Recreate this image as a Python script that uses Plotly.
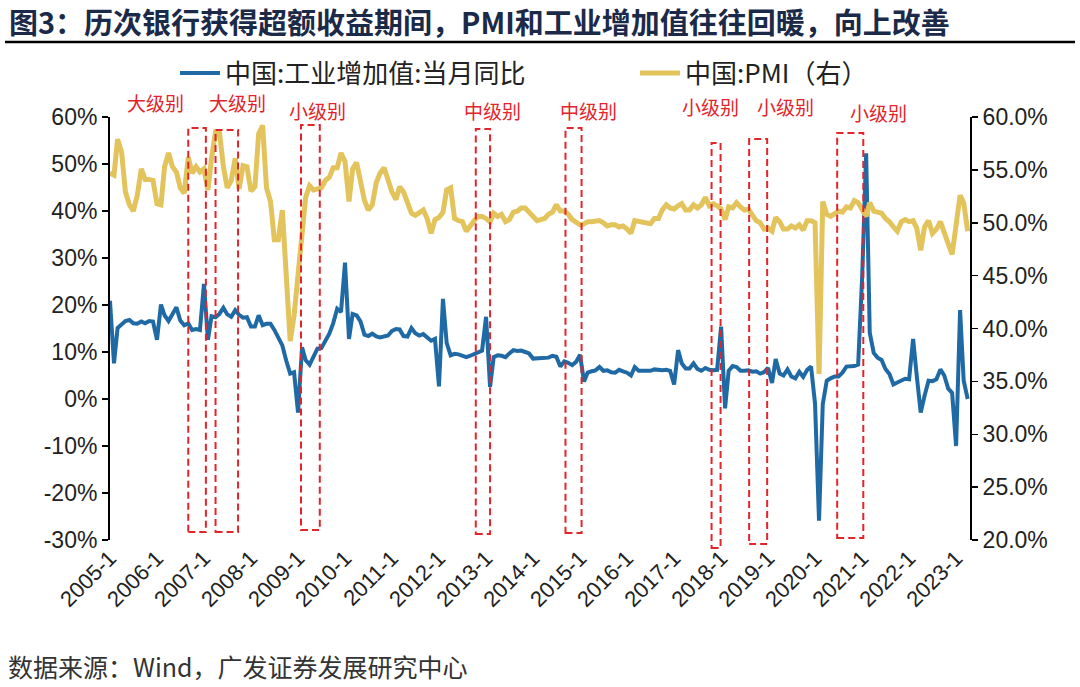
import pandas as pd
import plotly.graph_objects as go

# ---------------- data ----------------
start_month = "2005-01"
n_months = 220  # 2005-01 ... 2023-04

iva_yoy = [  # 中国:工业增加值:当月同比 (%)
    20.9, 7.6, 15.1, 16.0, 16.6, 16.8, 16.1, 16.0, 16.5, 16.1, 16.6, 16.5,   # 2005
    12.6, 20.1, 17.8, 16.6, 17.9, 19.5, 16.7, 15.7, 16.1, 14.7, 14.9, 14.7,  # 2006
    24.5, 12.6, 17.6, 17.4, 18.1, 19.4, 18.0, 17.5, 18.9, 17.9, 17.3, 17.4,  # 2007
    15.4, 15.4, 17.8, 15.7, 16.0, 16.0, 14.7, 12.8, 11.4, 8.2, 5.4, 5.7,     # 2008
    -2.9, 11.0, 8.3, 7.3, 8.9, 10.7, 10.8, 12.3, 13.9, 16.1, 19.2, 18.5,     # 2009
    29.0, 12.8, 18.1, 17.8, 16.5, 13.7, 13.4, 13.9, 13.3, 13.1, 13.3, 13.5,  # 2010
    14.5, 14.9, 14.8, 13.4, 13.3, 15.1, 14.0, 13.5, 13.8, 13.2, 12.4, 12.8,  # 2011
    2.7, 21.3, 11.9, 9.3, 9.6, 9.5, 9.2, 8.9, 9.2, 9.6, 10.1, 10.3,          # 2012
    17.5, 2.6, 8.9, 9.3, 9.2, 8.9, 9.7, 10.4, 10.2, 10.3, 10.0, 9.7,         # 2013
    8.6, 8.6, 8.8, 8.7, 8.8, 9.2, 9.0, 6.9, 8.0, 7.7, 7.2, 7.9,              # 2014
    9.4, 3.7, 5.6, 5.9, 6.1, 6.8, 6.0, 6.1, 5.7, 5.6, 6.2, 5.9,              # 2015
    5.6, 5.0, 6.8, 6.0, 6.0, 6.2, 6.0, 6.3, 6.1, 6.1, 6.2, 6.0,              # 2016
    3.1, 10.4, 7.6, 6.5, 6.5, 7.6, 6.4, 6.0, 6.6, 6.2, 6.1, 6.2,             # 2017
    15.4, -2.0, 6.0, 7.0, 6.8, 6.0, 6.0, 6.1, 5.8, 5.9, 5.4, 5.7,            # 2018
    6.6, 3.4, 8.5, 5.4, 5.0, 6.3, 4.8, 4.4, 5.8, 4.7, 6.2, 6.9,              # 2019
    -1.0, -25.9, -1.1, 3.9, 4.4, 4.8, 4.8, 5.6, 6.9, 6.9, 7.0, 7.3,          # 2020
    26.0, 52.3, 14.1, 9.8, 8.8, 8.3, 6.4, 5.3, 3.1, 3.5, 3.8, 4.3,           # 2021
    4.2, 12.8, 5.0, -2.9, 0.7, 3.9, 3.8, 4.2, 6.3, 5.0, 2.2, 1.3,            # 2022
    -10.0, 18.9, 3.9, 0.0,                                                   # 2023
]

pmi = [  # 中国:PMI (%)
    54.7, 54.5, 57.9, 56.7, 52.9, 51.7, 51.1, 52.6, 55.1, 54.1, 54.1, 54.0,  # 2005
    51.8, 51.7, 55.3, 56.6, 55.3, 54.8, 53.3, 52.8, 56.2, 54.7, 55.3, 54.8,  # 2006
    55.1, 53.1, 56.1, 58.6, 58.6, 55.3, 53.3, 54.0, 56.1, 53.2, 55.4, 55.3,  # 2007
    53.0, 53.4, 58.4, 59.2, 53.3, 52.0, 48.4, 48.4, 51.2, 44.6, 38.8, 41.2,  # 2008
    45.3, 49.0, 52.4, 53.5, 53.1, 53.2, 53.3, 54.0, 54.3, 55.2, 55.2, 56.6,  # 2009
    55.8, 52.0, 55.1, 55.7, 53.9, 52.1, 51.2, 51.7, 53.8, 54.7, 55.2, 53.9,  # 2010
    52.9, 52.2, 53.4, 52.9, 52.0, 50.9, 50.7, 50.9, 51.2, 50.4, 49.0, 50.3,  # 2011
    50.5, 51.0, 53.1, 53.3, 50.4, 50.2, 50.1, 49.2, 49.8, 50.2, 50.6, 50.6,  # 2012
    50.4, 50.1, 50.9, 50.6, 50.8, 50.1, 50.3, 51.0, 51.1, 51.4, 51.4, 51.0,  # 2013
    50.5, 50.2, 50.3, 50.4, 50.8, 51.0, 51.7, 51.1, 51.1, 50.8, 50.3, 50.1,  # 2014
    49.8, 49.9, 50.1, 50.1, 50.2, 50.2, 50.0, 49.7, 49.8, 49.8, 49.6, 49.7,  # 2015
    49.4, 49.0, 50.2, 50.1, 50.1, 50.0, 49.9, 50.4, 50.4, 51.2, 51.7, 51.4,  # 2016
    51.3, 51.6, 51.8, 51.2, 51.2, 51.7, 51.4, 51.7, 52.4, 51.6, 51.8, 51.6,  # 2017
    51.3, 50.3, 51.5, 51.4, 51.9, 51.5, 51.2, 51.3, 50.8, 50.2, 50.0, 49.4,  # 2018
    49.5, 49.2, 50.5, 50.1, 49.4, 49.4, 49.7, 49.5, 49.8, 49.3, 50.2, 50.2,  # 2019
    50.0, 35.7, 52.0, 50.8, 50.6, 50.9, 51.1, 51.0, 51.5, 51.4, 52.1, 51.9,  # 2020
    51.3, 50.6, 51.9, 51.1, 51.0, 50.9, 50.4, 50.1, 49.6, 49.2, 50.1, 50.3,  # 2021
    50.1, 50.2, 49.5, 47.4, 49.6, 50.2, 49.0, 49.4, 50.1, 49.2, 48.0, 47.0,  # 2022
    50.1, 52.6, 51.9, 49.2,                                                  # 2023
]

tick_years = list(range(2005, 2024))
x_tick_labels = [f"{y}-1" for y in tick_years]
left_ticks = [-30, -20, -10, 0, 10, 20, 30, 40, 50, 60]
left_tick_labels = [f"{v}%" for v in left_ticks]
right_ticks = [20, 25, 30, 35, 40, 45, 50, 55, 60]
right_tick_labels = [f"{v:.1f}%" for v in right_ticks]

# highlighted periods (dashed boxes) and their labels
periods = [
    ("2006-09-01", "2007-01-16", "大级别"),
    ("2007-04-01", "2007-09-23", "大级别"),
    ("2009-01-24", "2009-06-19", "小级别"),
    ("2012-10-13", "2013-02-01", "中级别"),
    ("2014-09-10", "2015-01-13", "中级别"),
    ("2017-10-19", "2017-12-28", "小级别"),
    ("2018-08-07", "2018-12-25", "小级别"),
    ("2020-06-21", "2021-01-10", "小级别"),
]

# ---------------- layout geometry (pixels) ----------------
W, H = 1080, 687
PL, PR, PT, PB = 110, 970, 117, 540


def px(x):
    return (x - PL) / (PR - PL)


def py(y):
    return (PB - y) / (PB - PT)


box_px = [  # (top, bottom) pixel extents of the dashed boxes
    (128, 532), (130, 532), (125, 530), (129, 534),
    (128, 533), (143, 548), (139, 544), (133, 538),
]
label_px = [  # label centres (x, y) in pixels
    (155, 103), (237, 103), (317, 110), (492, 110),
    (588, 110), (710, 106), (785, 106), (878, 112),
]

dates = pd.date_range(start_month, periods=n_months, freq="MS")
tick_dates = [pd.Timestamp(f"{y}-01-01") for y in tick_years]
x_range = ["2005-01-01", "2023-04-19"]

BLUE = "#1F6AA5"
GOLD = "#E3C35C"
RED = "#E3242B"
CJK = "Noto Sans CJK SC"
LAT = "Liberation Sans"

fig = go.Figure()
fig.add_trace(go.Scatter(
    x=dates, y=iva_yoy, name="中国:工业增加值:当月同比",
    mode="lines", line=dict(color=BLUE, width=4), yaxis="y", xaxis="x",
    legend="legend",
))
fig.add_trace(go.Scatter(
    x=dates, y=pmi, name="中国:PMI（右）",
    mode="lines", line=dict(color=GOLD, width=5), yaxis="y2", xaxis="x",
    legend="legend2",
))

shapes = []
for (s, e, _), (top, bot) in zip(periods, box_px):
    shapes.append(dict(
        type="rect", xref="x", yref="paper", x0=s, x1=e, y0=py(bot), y1=py(top),
        line=dict(color=RED, width=2, dash="7px,4px"), fillcolor="rgba(0,0,0,0)",
        layer="above",
    ))
# title rule
shapes.append(dict(type="line", xref="paper", yref="paper",
                   x0=px(5), x1=px(1075), y0=py(42), y1=py(42),
                   line=dict(color="black", width=2.5)))

annotations = []
for (_, _, txt), (lx, ly) in zip(periods, label_px):
    annotations.append(dict(
        text=txt, xref="paper", yref="paper", x=px(lx), y=py(ly),
        xanchor="center", yanchor="middle", showarrow=False,
        font=dict(family=CJK, size=19, color=RED),
    ))
annotations.append(dict(
    text="<b>图3：历次银行获得超额收益期间，PMI和工业增加值往往回暖，向上改善</b>",
    xref="paper", yref="paper", x=px(7), y=py(21), xanchor="left", yanchor="middle",
    showarrow=False, font=dict(family=CJK, size=29, color="#1B2A48"),
))
annotations.append(dict(
    text="数据来源：Wind，广发证券发展研究中心",
    xref="paper", yref="paper", x=px(6), y=py(666), xanchor="left", yanchor="middle",
    showarrow=False, font=dict(family=CJK, size=25, color="#333333"),
))

axis_common = dict(showgrid=False, zeroline=False, linecolor="black", linewidth=2,
                   tickcolor="black", tickwidth=1.5, ticklen=6, automargin=False)

legend_common = dict(orientation="h", yanchor="middle", xanchor="left",
                     font=dict(family=CJK, size=26, color="#222222"),
                     itemwidth=40, bgcolor="rgba(0,0,0,0)", borderwidth=0)

fig.update_layout(
    width=W, height=H, autosize=False,
    margin=dict(l=PL, r=W - PR, t=PT, b=H - PB, pad=0, autoexpand=False),
    paper_bgcolor="white", plot_bgcolor="white",
    font=dict(family=LAT, size=22, color="#222222"),
    showlegend=True,
    legend=dict(x=px(175), y=py(73), **legend_common),
    legend2=dict(x=px(635), y=py(73), **legend_common),
    xaxis=dict(type="date", range=x_range, tickvals=tick_dates, ticktext=x_tick_labels,
               tickangle=-45, showline=False, ticks="", showgrid=False, zeroline=False,
               automargin=False,
               tickfont=dict(family=LAT, size=22, color="#222222"), anchor="y"),
    xaxis2=dict(type="date", range=x_range, tickvals=tick_dates, overlaying="x",
                anchor="free", position=py(399), side="bottom", showline=True,
                ticks="outside", showticklabels=False, **axis_common),
    yaxis=dict(range=[-30, 60], tickvals=left_ticks, ticktext=left_tick_labels,
               showline=True, ticks="outside", side="left",
               tickfont=dict(family=LAT, size=23, color="#222222"), **axis_common),
    yaxis2=dict(range=[20, 60], tickvals=right_ticks, ticktext=right_tick_labels,
                overlaying="y", side="right", anchor="x", showline=True, ticks="outside",
                tickfont=dict(family=LAT, size=23, color="#222222"), **axis_common),
    shapes=shapes, annotations=annotations,
)

fig.write_html(
    "out.html",
    config={"displayModeBar": False, "staticPlot": True},
    post_script="document.body.style.margin='0';document.body.style.overflow='hidden';",
)
